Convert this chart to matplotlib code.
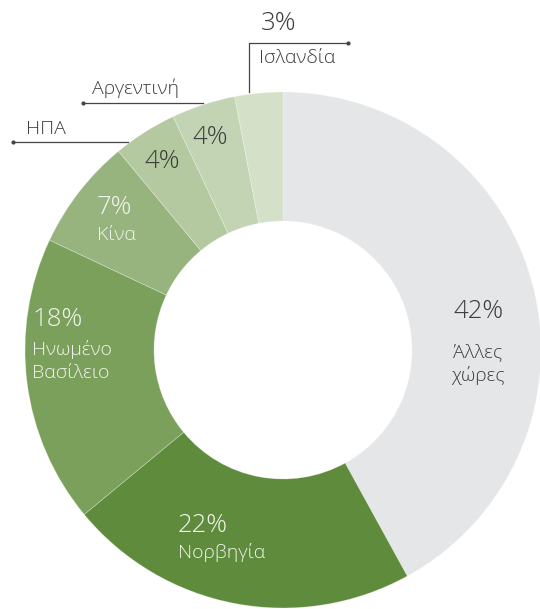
import matplotlib
matplotlib.use("Agg")
import matplotlib.pyplot as plt

# data
countries = ["Άλλες\nχώρες", "Νορβηγία", "Ηνωμένο\nΒασίλειο", "Κίνα", "ΗΠΑ", "Αργεντινή", "Ισλανδία"]
shares = [42, 22, 18, 7, 4, 4, 3]
colors = ["#e5e6e8", "#5e8c3c", "#7aa05c", "#97b47e", "#b4c9a0", "#c3d4b4", "#d4e0c8"]

plt.rcParams["font.family"] = ["Open Sans", "DejaVu Sans"]
plt.rcParams["font.weight"] = "light"

W, H = 540, 609
fig = plt.figure(figsize=(W / 100, H / 100), dpi=100)
ax = fig.add_axes([0, 0, 1, 1])

def py(y):  # pixel row -> data y
    return H - y

cx, cy, R = 283, 350, 258
ax.pie(shares, colors=colors, startangle=90, counterclock=False,
       center=(cx, py(cy)), radius=R, frame=True,
       wedgeprops=dict(width=R * 0.5, edgecolor=(1, 1, 1, 0.35), linewidth=0.5))
ax.set_xlim(0, W)
ax.set_ylim(0, H)
ax.set_aspect("equal")
ax.axis("off")

light, dark = "#f2f4ef", "#3c3c3c"
pct_fs, name_fs = 18.5, 14

# labels inside the ring
inner = [
    # (pct pos, name pos, align, colour)
    ((479, 311), (478, 364), "center", dark),
    ((178, 526), (178, 552), "left", light),
    ((32, 320), (32, 361), "left", light),
    ((114, 208), (116, 235), "center", light),
]
for i, (pp, npos, ha, c) in enumerate(inner):
    ax.text(pp[0], py(pp[1]), f"{shares[i]}%", ha=ha, va="center", fontsize=pct_fs, color=c)
    ax.text(npos[0], py(npos[1]), countries[i], ha=ha, va="center", fontsize=name_fs,
            color=c, linespacing=1.3)

# small slices: percentage inside, name outside on a leader line
ax.text(162, py(162), f"{shares[4]}%", ha="center", va="center", fontsize=pct_fs, color=dark)
ax.text(210, py(138), f"{shares[5]}%", ha="center", va="center", fontsize=pct_fs, color=dark)
ax.text(279, py(23), f"{shares[6]}%", ha="center", va="center", fontsize=pct_fs, color=dark)

lc = "#444444"
# ΗΠΑ
ax.plot([13, 128], [py(142), py(142)], color=lc, lw=0.9)
ax.plot([13], [py(142)], "o", color=lc, ms=2)
ax.text(26, py(129), countries[4], ha="left", va="center", fontsize=name_fs, color=dark)
# Αργεντινή
ax.plot([83, 203], [py(103), py(103)], color=lc, lw=0.9)
ax.plot([83], [py(103)], "o", color=lc, ms=2)
ax.text(92, py(88), countries[5], ha="left", va="center", fontsize=name_fs, color=dark)
# Ισλανδία
ax.plot([249, 249, 348], [py(92), py(43), py(43)], color=lc, lw=0.9)
ax.plot([348], [py(43)], "o", color=lc, ms=2)
ax.text(259, py(58), countries[6], ha="left", va="center", fontsize=name_fs, color=dark)

fig.savefig("out.png", dpi=100, facecolor="white")
